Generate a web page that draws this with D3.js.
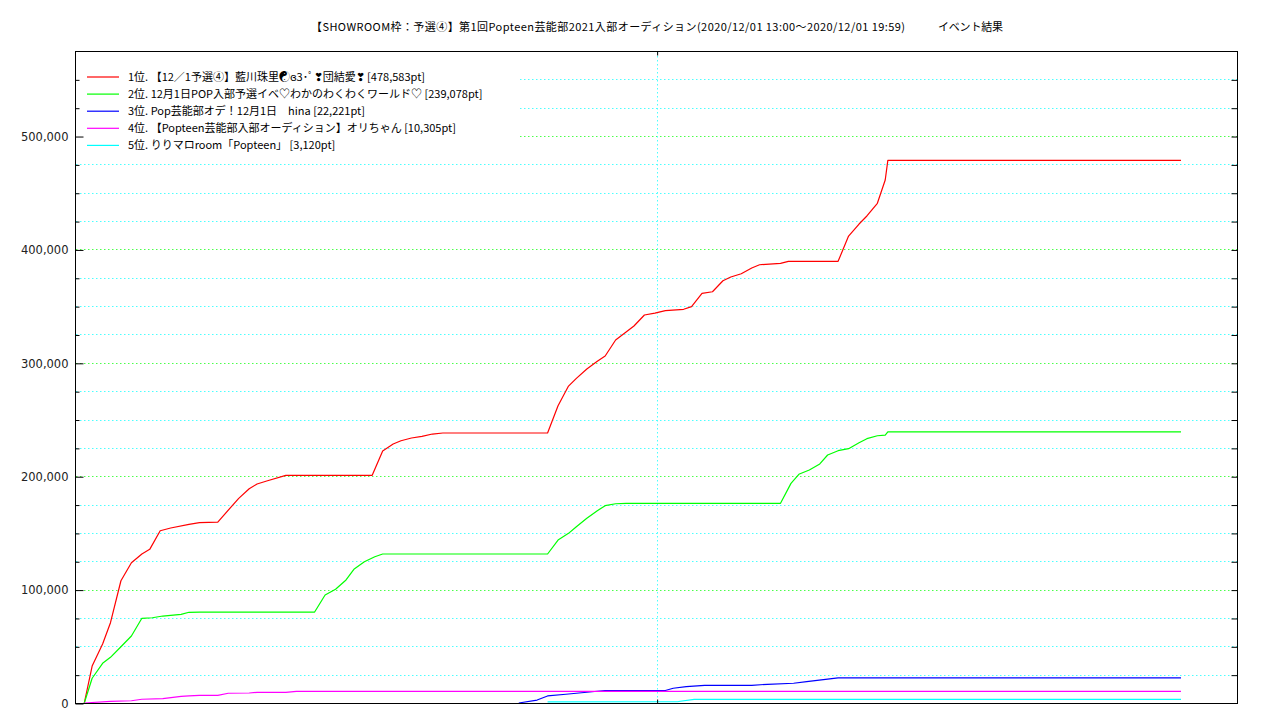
<!DOCTYPE html>
<html>
<head>
<meta charset="utf-8">
<script src="https://cdn.jsdelivr.net/npm/d3@7"></script>
<style>
  html, body { margin: 0; padding: 0; background: #fff; }
  svg { display: block; }
  .cjk { font-family: "Noto Sans CJK JP", "Noto Sans", sans-serif; }
  .num { font-family: "DejaVu Sans", sans-serif; }
</style>
</head>
<body>
<svg id="chart" width="1280" height="720"></svg>
<script>
// Event title (main part and suffix)
const titleMain = "【SHOWROOM枠：予選④】第1回Popteen芸能部2021入部オーディション(2020/12/01 13:00～2020/12/01 19:59)";
const titleSuffix = "イベント結果";

// Legend labels, in rank order
const seriesLabels = [
  "1位. 【12／1予選④】藍川珠里☯ɞ3･ﾟ❣団結愛❣ [478,583pt]",
  "2位. 12月1日POP入部予選イベ♡わかのわくわくワールド♡ [239,078pt]",
  "3位. Pop芸能部オデ！12月1日　hina [22,221pt]",
  "4位. 【Popteen芸能部入部オーディション】オリちゃん [10,305pt]",
  "5位. りりマロroom「Popteen」 [3,120pt]"
];
const seriesColors = ["#ff0000", "#00ff00", "#0000ff", "#ff00ff", "#00ffff"];

// Cumulative points per room: [time, points]
const rank1 = [
  ["13:00",0],["13:03",32600],["13:07",52000],["13:10",70800],["13:14",107800],
  ["13:18",123700],["13:22",131400],["13:25",135500],["13:29",151900],["13:33",154300],
  ["13:40",157600],["13:44",159000],["13:51",159600],["13:59",180500],["14:03",189000],
  ["14:06",193100],["14:10",196000],["14:17",200800],["14:50",200800],["14:54",222200],
  ["14:58",228400],["15:01",231300],["15:05",233700],["15:09",235200],["15:13",237200],
  ["15:17",238100],["15:57",238100],["16:01",262200],["16:05",279500],["16:08",286300],
  ["16:12",294500],["16:16",301300],["16:19",306000],["16:23",320100],["16:27",327200],
  ["16:30",332500],["16:34",342200],["16:38",343900],["16:42",346000],["16:49",347200],
  ["16:52",349600],["16:56",361300],["17:00",362700],["17:04",372400],["17:07",375700],
  ["17:11",378600],["17:15",383600],["17:18",386500],["17:26",387700],["17:29",389500],
  ["17:48",389500],["17:52",411800],["17:56",422400],["17:59",429500],["18:03",440700],
  ["18:06",461200],["18:07",478583],["19:59",478583]
];
const rank2 = [
  ["13:00",0],["13:03",21800],["13:07",35000],["13:10",40300],["13:14",49600],
  ["13:18",59100],["13:22",74700],["13:26",75200],["13:30",76700],["13:37",78200],
  ["13:40",80000],["13:44",80200],["14:28",80200],["14:32",95200],["14:36",100300],
  ["14:40",108500],["14:43",117900],["14:47",124600],["14:51",129000],["14:54",131400],
  ["15:57",131400],["16:01",143700],["16:05",149600],["16:08",155500],["16:12",162900],
  ["16:16",169600],["16:19",174000],["16:23",175700],["16:27",176100],["17:26",176100],
  ["17:30",193700],["17:33",201700],["17:37",205500],["17:41",210800],["17:44",218700],
  ["17:48",222500],["17:52",224300],["17:56",229500],["17:59",233100],["18:03",235700],
  ["18:06",236300],["18:07",239078],["19:59",239078]
];
const rank3 = [
  ["15:46",0],["15:53",2600],["15:57",6200],["16:04",7700],["16:19",11000],
  ["16:42",11000],["16:45",13000],["16:50",14400],["16:57",15600],["17:15",15600],
  ["17:21",16500],["17:31",17400],["17:36",18800],["17:48",22221],["19:59",22221]
];
const rank4 = [
  ["13:00",0],["13:10",1500],["13:18",2000],["13:22",3300],["13:30",3800],
  ["13:37",5900],["13:40",6200],["13:44",6800],["13:51",6800],["13:55",8600],
  ["14:03",8800],["14:06",9400],["14:17",9400],["14:21",10305],["19:59",10305]
];
const rank5 = [
  ["15:57",1000],["16:47",1300],["16:53",3120],["19:59",3120]
];
const seriesData = [rank1, rank2, rank3, rank4, rank5];

// Axis settings
const timeDomain = ["12:56:27", "20:20:24"];
const xTickTimes = ["16:38:40"];
const yMax = 575000;
const yMajorTicks = [0, 100000, 200000, 300000, 400000, 500000];
const yMinorStep = 25000;

const parseHM = d3.timeParse("%H:%M");
const parseHMS = d3.timeParse("%H:%M:%S");

const svg = d3.select("#chart");
const W = 1280, H = 720;
const plot = { left: 75, right: 1237, top: 51, bottom: 703 };

svg.append("rect").attr("width", W).attr("height", H).attr("fill", "#fff");

const x = d3.scaleTime()
  .domain(timeDomain.map(parseHMS))
  .range([plot.left, plot.right]);
const y = d3.scaleLinear()
  .domain([0, yMax])
  .range([plot.bottom, plot.top]);

const allYTicks = d3.range(0, yMax + 1, yMinorStep);
const isMajor = v => v % 100000 === 0;

// Horizontal dotted grid: green on labelled values, cyan in between
const grid = svg.append("g").attr("class", "grid").style("opacity", 0.7);
grid.selectAll(".hgrid")
  .data(allYTicks.filter(v => v > 0 && v < yMax))
  .join("line")
  .attr("class", "hgrid")
  .attr("x1", plot.left + 1).attr("x2", plot.right)
  .attr("y1", d => Math.round(y(d)) + 0.5).attr("y2", d => Math.round(y(d)) + 0.5)
  .style("stroke", d => isMajor(d) ? "#00ff00" : "#00ffff")
  .style("stroke-width", "1px")
  .style("stroke-dasharray", "1.5,2.5");

// Vertical dotted grid at the time tick
grid.selectAll(".vgrid")
  .data(xTickTimes.map(parseHMS))
  .join("line")
  .attr("class", "vgrid")
  .attr("x1", d => Math.round(x(d)) + 0.5).attr("x2", d => Math.round(x(d)) + 0.5)
  .attr("y1", plot.top + 1).attr("y2", plot.bottom)
  .style("stroke", "#00ffff")
  .style("stroke-width", "1px")
  .style("stroke-dasharray", "1.5,2.5");

// Opaque key background
svg.append("rect")
  .attr("x", plot.left + 1).attr("y", plot.top + 7)
  .attr("width", 443).attr("height", 100)
  .attr("fill", "#fff");

// Series lines
const line = d3.line()
  .x(d => x(parseHM(d[0])))
  .y(d => y(d[1]));

svg.append("g").selectAll("path")
  .data(seriesData)
  .join("path")
  .attr("d", line)
  .attr("fill", "none")
  .attr("stroke", (d, i) => seriesColors[i])
  .attr("stroke-width", 1.2)
  .attr("stroke-linejoin", "round");

// Border
svg.append("rect")
  .attr("x", plot.left + 0.5).attr("y", plot.top + 0.5)
  .attr("width", plot.right - plot.left).attr("height", plot.bottom - plot.top)
  .attr("fill", "none").attr("stroke", "#000").attr("stroke-width", 1);

// Left axis: labelled major ticks, inward
const leftAxis = d3.axisRight(y)
  .tickValues(yMajorTicks)
  .tickFormat(d3.format(","))
  .tickSize(8);
const gl = svg.append("g").attr("transform", `translate(${plot.left + 0.5},0.5)`).call(leftAxis);
gl.select(".domain").remove();
gl.selectAll(".tick line").attr("stroke", "#000");
gl.selectAll(".tick text")
  .attr("class", "num")
  .attr("text-anchor", "end")
  .attr("x", -7)
  .attr("font-size", 11.5)
  .attr("fill", "#222");

// Left minor ticks
const leftMinor = d3.axisRight(y)
  .tickValues(allYTicks.filter(v => !isMajor(v) && v < yMax))
  .tickFormat("")
  .tickSize(4);
const glm = svg.append("g").attr("transform", `translate(${plot.left + 0.5},0.5)`).call(leftMinor);
glm.select(".domain").remove();

// Right mirrored ticks
const rightAxis = d3.axisLeft(y)
  .tickValues(allYTicks.filter(v => v > 0 && v < yMax))
  .tickFormat("")
  .tickSize(6);
const gr = svg.append("g").attr("transform", `translate(${plot.right + 0.5},0.5)`).call(rightAxis);
gr.select(".domain").remove();

// Bottom and top time ticks (unlabelled)
const bottomAxis = d3.axisTop(x).tickValues(xTickTimes.map(parseHMS)).tickFormat("").tickSize(4);
const gb = svg.append("g").attr("transform", `translate(0.5,${plot.bottom + 0.5})`).call(bottomAxis);
gb.select(".domain").remove();
const topAxis = d3.axisBottom(x).tickValues(xTickTimes.map(parseHMS)).tickFormat("").tickSize(4);
const gt = svg.append("g").attr("transform", `translate(0.5,${plot.top + 0.5})`).call(topAxis);
gt.select(".domain").remove();

// Title, spread to its full width
svg.append("text")
  .attr("class", "cjk")
  .attr("x", 311)
  .attr("y", 31)
  .attr("font-size", 11)
  .attr("fill", "#000")
  .attr("textLength", 594)
  .attr("lengthAdjust", "spacing")
  .text(titleMain);
svg.append("text")
  .attr("class", "cjk")
  .attr("x", 938)
  .attr("y", 31)
  .attr("font-size", 11)
  .attr("fill", "#000")
  .attr("textLength", 65)
  .attr("lengthAdjust", "spacing")
  .text(titleSuffix);

// Key
const key = svg.append("g");
const keyRows = key.selectAll("g")
  .data(seriesLabels)
  .join("g")
  .attr("transform", (d, i) => `translate(0,${77 + i * 17.1})`);
keyRows.append("line")
  .attr("x1", 87).attr("x2", 119)
  .attr("y1", 0).attr("y2", 0)
  .attr("stroke", (d, i) => seriesColors[i])
  .attr("stroke-width", 1.2);
keyRows.append("text")
  .attr("class", "cjk")
  .attr("x", 128)
  .attr("y", 4)
  .attr("font-size", 11)
  .attr("fill", "#000")
  .style("white-space", "pre")
  .text(d => d);
</script>
</body>
</html>
